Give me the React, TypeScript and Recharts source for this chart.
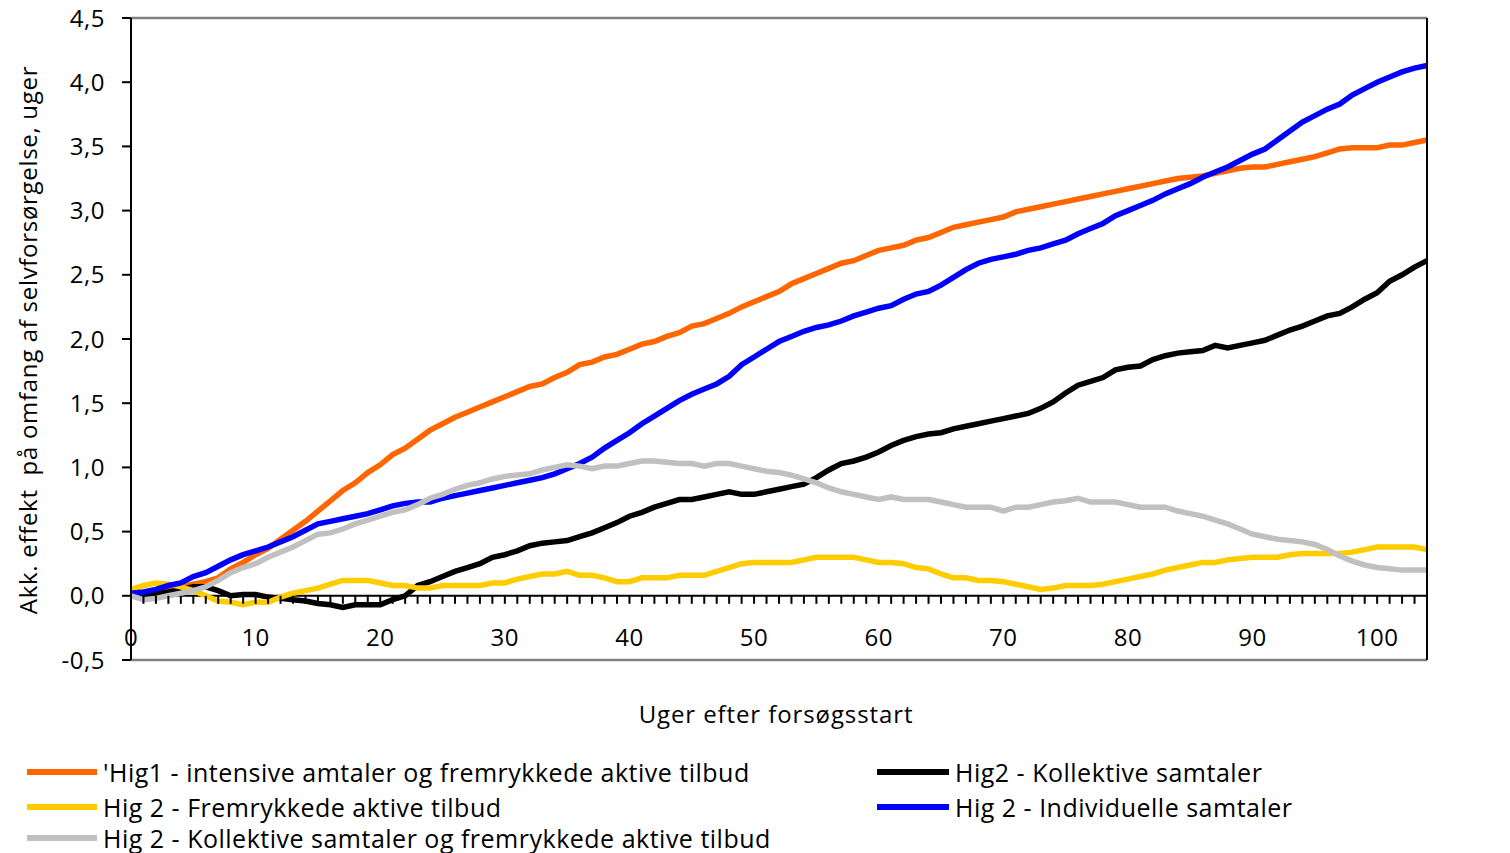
import { CartesianGrid, Line, LineChart, ReferenceLine, XAxis, YAxis } from "recharts";

const WEEKS = [
  0, 1, 2, 3, 4, 5, 6, 7, 8, 9, 10, 11, 12, 13, 14, 15, 16, 17, 18, 19, 20,
  21, 22, 23, 24, 25, 26, 27, 28, 29, 30, 31, 32, 33, 34, 35, 36, 37, 38, 39,
  40, 41, 42, 43, 44, 45, 46, 47, 48, 49, 50, 51, 52, 53, 54, 55, 56, 57, 58,
  59, 60, 61, 62, 63, 64, 65, 66, 67, 68, 69, 70, 71, 72, 73, 74, 75, 76, 77,
  78, 79, 80, 81, 82, 83, 84, 85, 86, 87, 88, 89, 90, 91, 92, 93, 94, 95, 96,
  97, 98, 99, 100, 101, 102, 103, 104,
];

// 'Hig1 - intensive samtaler og fremrykkede aktive tilbud
const HIG1_INTENSIVE = [
  0.0, 0.02, 0.04, 0.05, 0.07, 0.09, 0.11, 0.14, 0.21, 0.26, 0.32, 0.37, 0.44,
  0.51, 0.58, 0.66, 0.74, 0.82, 0.88, 0.96, 1.02, 1.1, 1.15, 1.22, 1.29, 1.34,
  1.39, 1.43, 1.47, 1.51, 1.55, 1.59, 1.63, 1.65, 1.7, 1.74, 1.8, 1.82, 1.86,
  1.88, 1.92, 1.96, 1.98, 2.02, 2.05, 2.1, 2.12, 2.16, 2.2, 2.25, 2.29, 2.33,
  2.37, 2.43, 2.47, 2.51, 2.55, 2.59, 2.61, 2.65, 2.69, 2.71, 2.73, 2.77, 2.79,
  2.83, 2.87, 2.89, 2.91, 2.93, 2.95, 2.99, 3.01, 3.03, 3.05, 3.07, 3.09, 3.11,
  3.13, 3.15, 3.17, 3.19, 3.21, 3.23, 3.25, 3.26, 3.27, 3.29, 3.31, 3.33, 3.34,
  3.34, 3.36, 3.38, 3.4, 3.42, 3.45, 3.48, 3.49, 3.49, 3.49, 3.51, 3.51, 3.53,
  3.55,
];

const HIG2_KOLLEKTIVE = [
  0.0, 0.01, 0.02, 0.03, 0.05, 0.07, 0.07, 0.04, 0.0, 0.01, 0.01, -0.01, -0.02,
  -0.03, -0.04, -0.06, -0.07, -0.09, -0.07, -0.07, -0.07, -0.03, 0.0, 0.08,
  0.11, 0.15, 0.19, 0.22, 0.25, 0.3, 0.32, 0.35, 0.39, 0.41, 0.42, 0.43, 0.46,
  0.49, 0.53, 0.57, 0.62, 0.65, 0.69, 0.72, 0.75, 0.75, 0.77, 0.79, 0.81, 0.79,
  0.79, 0.81, 0.83, 0.85, 0.87, 0.92, 0.98, 1.03, 1.05, 1.08, 1.12, 1.17, 1.21,
  1.24, 1.26, 1.27, 1.3, 1.32, 1.34, 1.36, 1.38, 1.4, 1.42, 1.46, 1.51, 1.58,
  1.64, 1.67, 1.7, 1.76, 1.78, 1.79, 1.84, 1.87, 1.89, 1.9, 1.91, 1.95, 1.93,
  1.95, 1.97, 1.99, 2.03, 2.07, 2.1, 2.14, 2.18, 2.2, 2.25, 2.31, 2.36, 2.45,
  2.5, 2.56, 2.61,
];

const HIG2_FREMRYKKEDE = [
  0.05, 0.08, 0.1, 0.09, 0.07, 0.04, 0.0, -0.04, -0.05, -0.07, -0.05, -0.05,
  -0.01, 0.02, 0.04, 0.06, 0.09, 0.12, 0.12, 0.12, 0.1, 0.08, 0.08, 0.06, 0.06,
  0.08, 0.08, 0.08, 0.08, 0.1, 0.1, 0.13, 0.15, 0.17, 0.17, 0.19, 0.16, 0.16,
  0.14, 0.11, 0.11, 0.14, 0.14, 0.14, 0.16, 0.16, 0.16, 0.19, 0.22, 0.25, 0.26,
  0.26, 0.26, 0.26, 0.28, 0.3, 0.3, 0.3, 0.3, 0.28, 0.26, 0.26, 0.25, 0.22,
  0.21, 0.17, 0.14, 0.14, 0.12, 0.12, 0.11, 0.09, 0.07, 0.05, 0.06, 0.08, 0.08,
  0.08, 0.09, 0.11, 0.13, 0.15, 0.17, 0.2, 0.22, 0.24, 0.26, 0.26, 0.28, 0.29,
  0.3, 0.3, 0.3, 0.32, 0.33, 0.33, 0.33, 0.33, 0.34, 0.36, 0.38, 0.38, 0.38,
  0.38, 0.36,
];

const HIG2_INDIVIDUELLE = [
  0.02, 0.03, 0.05, 0.08, 0.1, 0.15, 0.18, 0.23, 0.28, 0.32, 0.35, 0.38, 0.42,
  0.46, 0.51, 0.56, 0.58, 0.6, 0.62, 0.64, 0.67, 0.7, 0.72, 0.73, 0.73, 0.76,
  0.78, 0.8, 0.82, 0.84, 0.86, 0.88, 0.9, 0.92, 0.95, 0.99, 1.03, 1.08, 1.15,
  1.21, 1.27, 1.34, 1.4, 1.46, 1.52, 1.57, 1.61, 1.65, 1.71, 1.8, 1.86, 1.92,
  1.98, 2.02, 2.06, 2.09, 2.11, 2.14, 2.18, 2.21, 2.24, 2.26, 2.31, 2.35, 2.37,
  2.42, 2.48, 2.54, 2.59, 2.62, 2.64, 2.66, 2.69, 2.71, 2.74, 2.77, 2.82, 2.86,
  2.9, 2.96, 3.0, 3.04, 3.08, 3.13, 3.17, 3.21, 3.26, 3.3, 3.34, 3.39, 3.44,
  3.48, 3.55, 3.62, 3.69, 3.74, 3.79, 3.83, 3.9, 3.95, 4.0, 4.04, 4.08, 4.11,
  4.13,
];

const HIG2_KOLLEKTIVE_FREMRYKKEDE = [
  0.0, -0.03, -0.02, 0.0, 0.02, 0.04, 0.07, 0.12, 0.18, 0.22, 0.25, 0.3, 0.34,
  0.38, 0.43, 0.48, 0.49, 0.52, 0.56, 0.59, 0.62, 0.65, 0.67, 0.71, 0.76, 0.79,
  0.83, 0.86, 0.88, 0.91, 0.93, 0.94, 0.95, 0.98, 1.0, 1.02, 1.01, 0.99, 1.01,
  1.01, 1.03, 1.05, 1.05, 1.04, 1.03, 1.03, 1.01, 1.03, 1.03, 1.01, 0.99, 0.97,
  0.96, 0.94, 0.91, 0.88, 0.84, 0.81, 0.79, 0.77, 0.75, 0.77, 0.75, 0.75, 0.75,
  0.73, 0.71, 0.69, 0.69, 0.69, 0.66, 0.69, 0.69, 0.71, 0.73, 0.74, 0.76, 0.73,
  0.73, 0.73, 0.71, 0.69, 0.69, 0.69, 0.66, 0.64, 0.62, 0.59, 0.56, 0.52, 0.48,
  0.46, 0.44, 0.43, 0.42, 0.4, 0.36, 0.31, 0.27, 0.24, 0.22, 0.21, 0.2, 0.2,
  0.2,
];

const Y_TICKS = [-0.5, 0, 0.5, 1, 1.5, 2, 2.5, 3, 3.5, 4, 4.5];
const X_LABELS = [0, 10, 20, 30, 40, 50, 60, 70, 80, 90, 100];

// Excel fills the two-column legend row by row, and draws in this order.
const SERIES = [
  { key: "hig1", name: "'Hig1 - intensive amtaler og fremrykkede aktive tilbud", color: "#FF6600", values: HIG1_INTENSIVE },
  { key: "hig2Koll", name: "Hig2 - Kollektive samtaler", color: "#000000", values: HIG2_KOLLEKTIVE },
  { key: "hig2Frem", name: "Hig 2 - Fremrykkede aktive tilbud", color: "#FFCC00", values: HIG2_FREMRYKKEDE },
  { key: "hig2Ind", name: "Hig 2 - Individuelle samtaler", color: "#0000FF", values: HIG2_INDIVIDUELLE },
  { key: "hig2KollFrem", name: "Hig 2 - Kollektive samtaler og fremrykkede aktive tilbud", color: "#C0C0C0", values: HIG2_KOLLEKTIVE_FREMRYKKEDE },
];

const data = WEEKS.map((week, i) => {
  const row: Record<string, number> = { week };
  SERIES.forEach((s) => (row[s.key] = s.values[i]));
  return row;
});

// Calibri in the original, rendered a little wide; Open Sans + tracking gets close.
const FONT = "'Open Sans', Lato, sans-serif";
const WIDTH = 1510;
const HEIGHT = 853;
const PLOT_TOP = 18;
const PLOT_BOTTOM = 660;
const PLOT_H = PLOT_BOTTOM - PLOT_TOP;
// the category axis crosses the value axis at 0, half a unit above the floor
const ZERO_OFFSET = (PLOT_H * 0.5) / 5;
const TICK_STYLE = { fill: "#000", fontSize: 24, fontFamily: FONT, letterSpacing: 0.5 };

const fmt = (v: number) => v.toFixed(1).replace(".", ",");

function WeekTick(props: any) {
  const { x, y, payload } = props;
  const v = payload.value as number;
  const y0 = y - ZERO_OFFSET;
  return (
    <g>
      {v > 0 && v < 104 ? (
        <line x1={x} x2={x} y1={y0} y2={y0 + 8} stroke="#000" strokeWidth={2} />
      ) : null}
      {X_LABELS.includes(v) ? (
        <text x={x} y={y0 + 50} textAnchor="middle" fontFamily={FONT} fontSize={24} letterSpacing={0.5} fill="#000">
          {v}
        </text>
      ) : null}
    </g>
  );
}

const LEGEND_ROWS = [772, 807, 838];
const LEGEND_COLS = [
  { swatch: 27, text: 103 },
  { swatch: 877, text: 955 },
];

export default function App() {
  return (
    <div style={{ position: "absolute", left: 0, top: 0, width: WIDTH, height: HEIGHT, background: "#fff", fontFamily: FONT }}>
      <LineChart
        width={WIDTH}
        height={HEIGHT}
        data={data}
        margin={{ top: PLOT_TOP, right: 3, bottom: 93, left: 31 }}
      >
        <CartesianGrid vertical={false} stroke="#000" strokeWidth={2} />
        <XAxis
          dataKey="week"
          type="number"
          domain={[0, 104]}
          ticks={WEEKS}
          interval={0}
          height={100}
          axisLine={false}
          tickLine={false}
          tickSize={0}
          tickMargin={0}
          tick={<WeekTick />}
        />
        <YAxis
          yAxisId="left"
          domain={[-0.5, 4.5]}
          ticks={Y_TICKS}
          width={100}
          tickFormatter={fmt}
          tick={TICK_STYLE}
          axisLine={{ stroke: "#000", strokeWidth: 2 }}
          tickLine={{ stroke: "#000", strokeWidth: 2 }}
          tickSize={9}
          tickMargin={17}
        />
        <YAxis
          yAxisId="right"
          orientation="right"
          domain={[-0.5, 4.5]}
          ticks={Y_TICKS}
          width={80}
          tickFormatter={fmt}
          tick={TICK_STYLE}
          axisLine={{ stroke: "#000", strokeWidth: 2 }}
          tickLine={{ stroke: "#000", strokeWidth: 2 }}
          tickSize={9}
          tickMargin={13}
        />
        <ReferenceLine yAxisId="left" y={4.5} stroke="#808080" strokeWidth={2.5} />
        <ReferenceLine yAxisId="left" y={-0.5} stroke="#808080" strokeWidth={2.5} />
        <ReferenceLine yAxisId="left" y={0} stroke="#000" strokeWidth={2} />
        {SERIES.map((s) => (
          <Line
            key={s.key}
            yAxisId="left"
            dataKey={s.key}
            name={s.name}
            stroke={s.color}
            strokeWidth={5.5}
            dot={false}
            type="linear"
            isAnimationActive={false}
          />
        ))}
      </LineChart>

      <div
        style={{
          position: "absolute",
          left: 28 - 350,
          top: 340 - 15,
          width: 700,
          height: 30,
          lineHeight: "30px",
          textAlign: "center",
          fontSize: 24,
          letterSpacing: 0.7,
          whiteSpace: "pre",
          transform: "rotate(-90deg)",
        }}
      >
        Akk. effekt  på omfang af selvforsørgelse, uger
      </div>

      <div
        style={{
          position: "absolute",
          left: 776 - 300,
          top: 700,
          width: 600,
          lineHeight: "28px",
          textAlign: "center",
          fontSize: 24,
          letterSpacing: 0.9,
        }}
      >
        Uger efter forsøgsstart
      </div>

      {SERIES.map((s, i) => {
        const col = LEGEND_COLS[i % 2];
        const cy = LEGEND_ROWS[Math.floor(i / 2)];
        return (
          <div key={s.key}>
            <div
              style={{
                position: "absolute",
                left: col.swatch,
                top: cy - 3,
                width: col.text - col.swatch - 6,
                height: 6,
                background: s.color,
              }}
            />
            <div
              style={{
                position: "absolute",
                left: col.text,
                top: cy - 16,
                lineHeight: "32px",
                fontSize: 25,
                letterSpacing: 0.5,
                whiteSpace: "nowrap",
              }}
            >
              {s.name}
            </div>
          </div>
        );
      })}
    </div>
  );
}
